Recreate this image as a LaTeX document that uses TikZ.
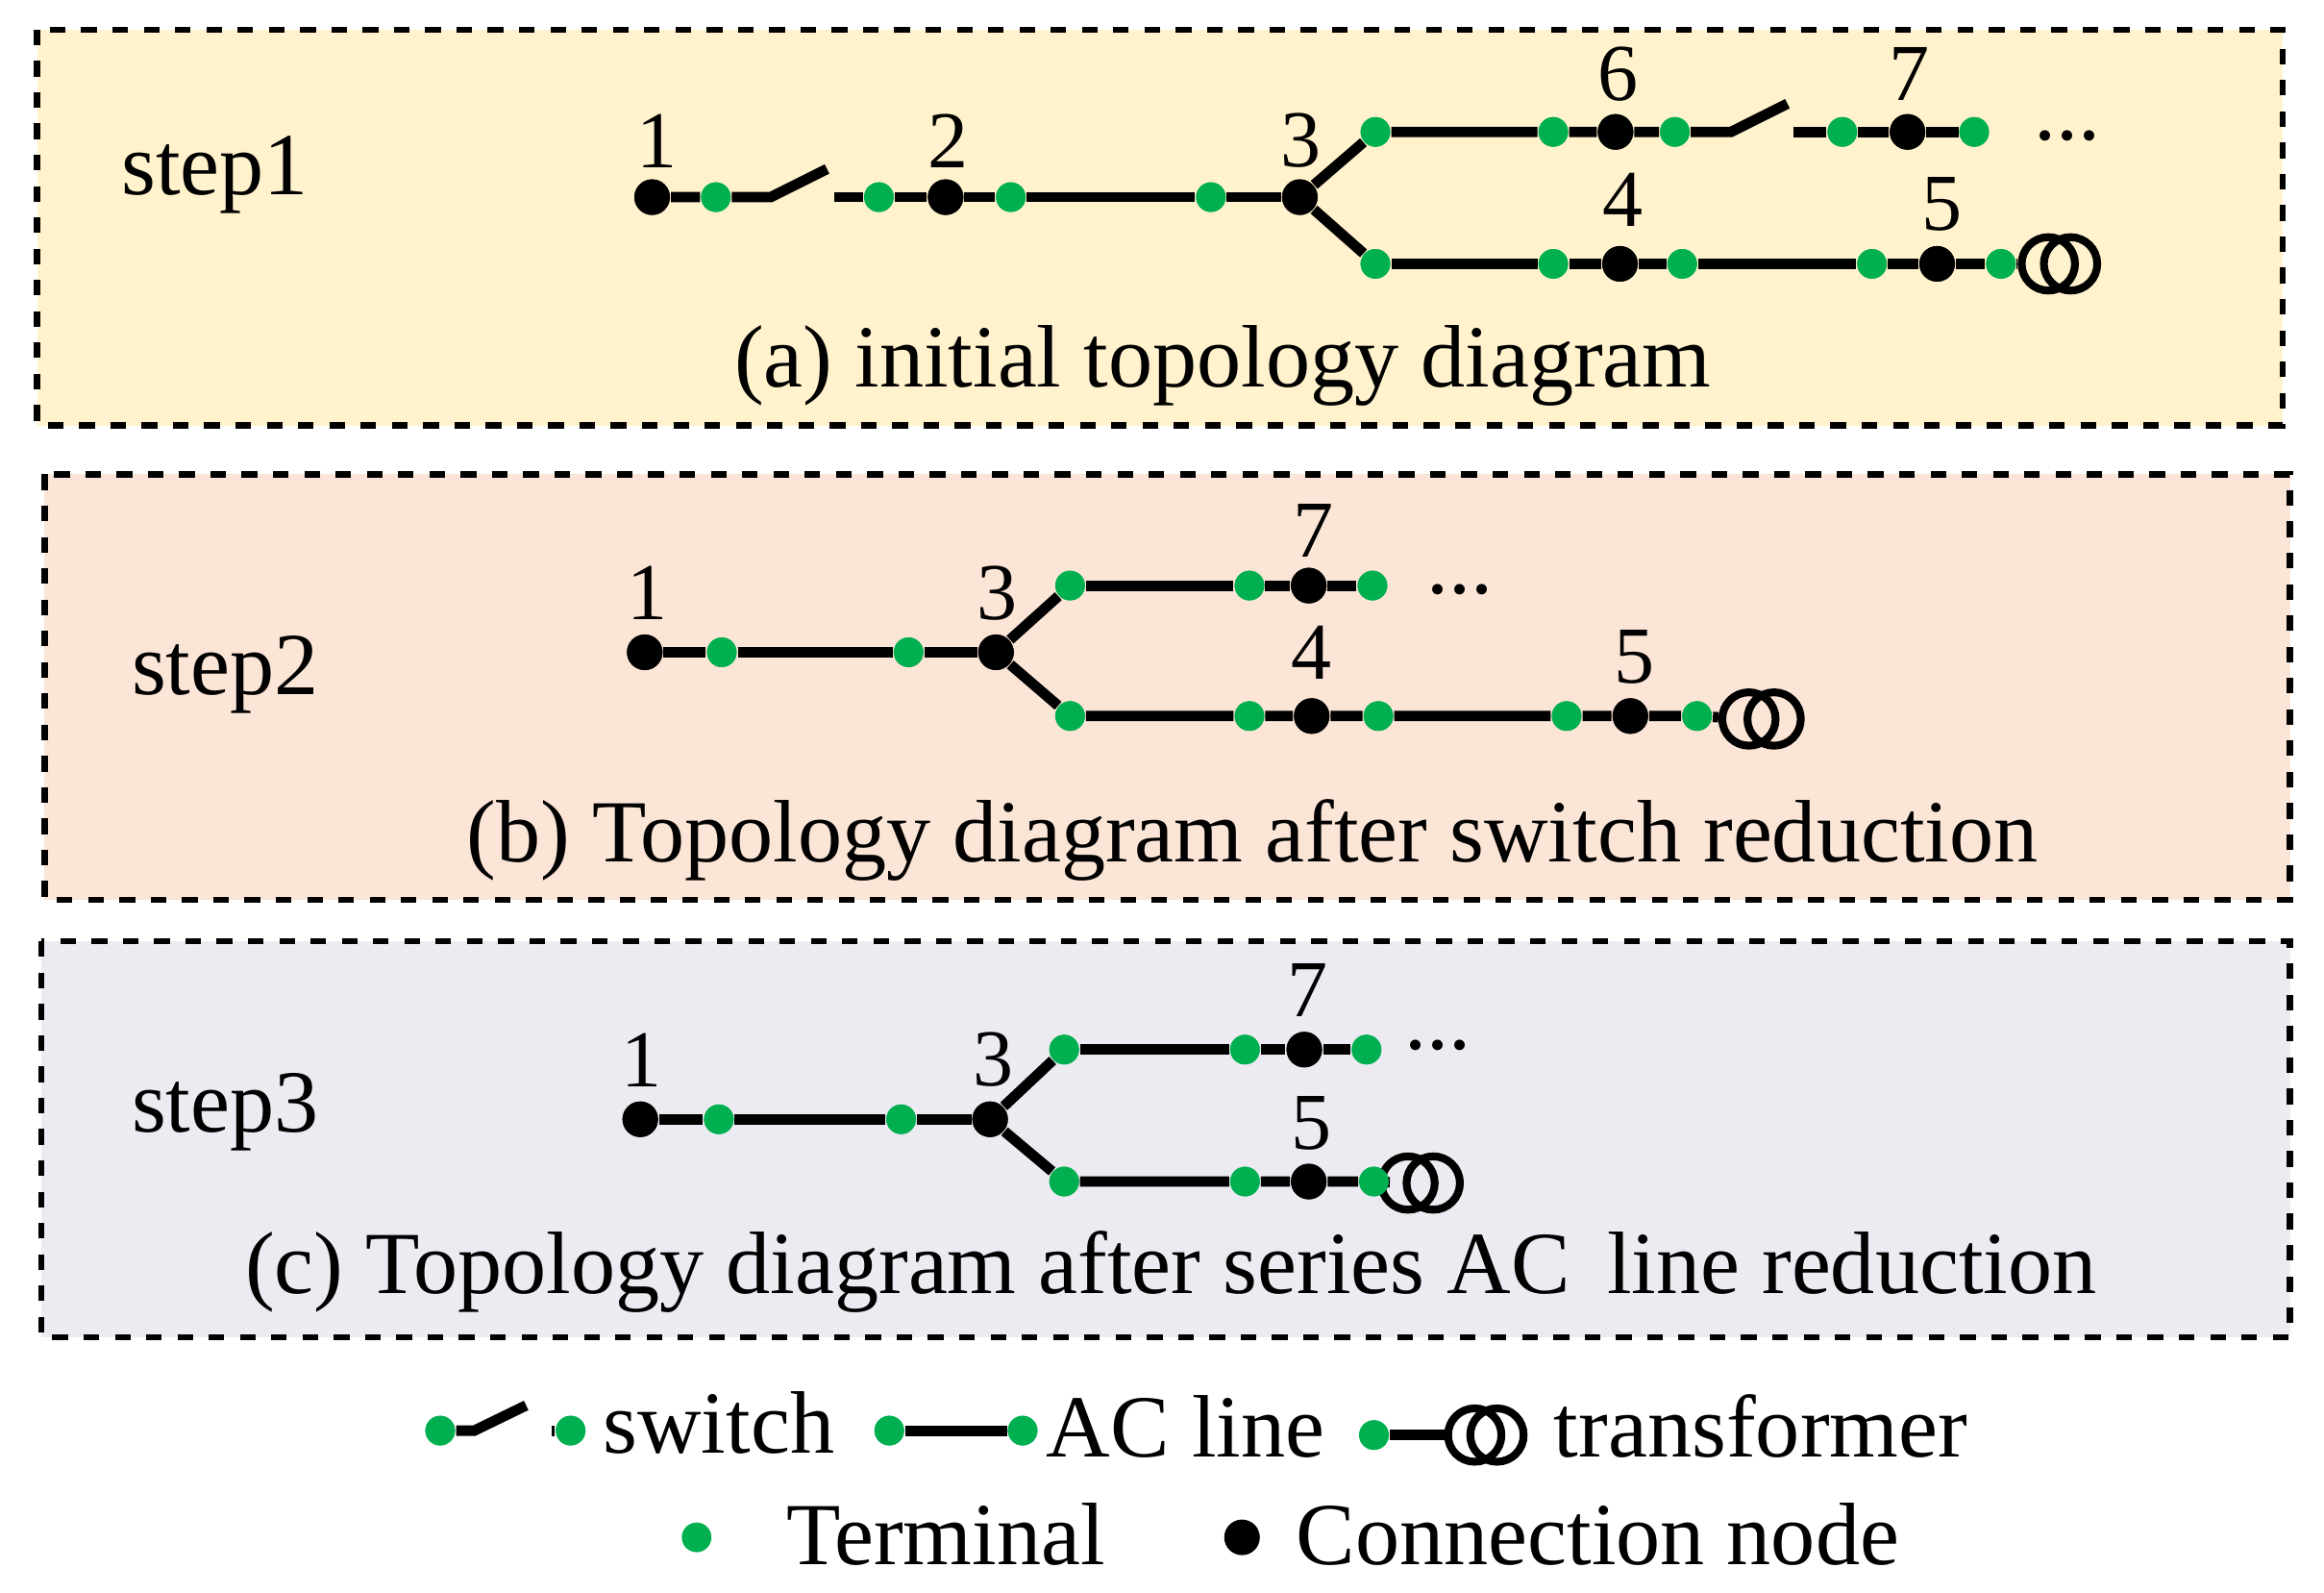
\documentclass[tikz,border=0pt]{standalone}
\usepackage{fontspec}
\setmainfont{Liberation Serif}
\definecolor{termgreen}{HTML}{00B050}
\definecolor{panelA}{HTML}{FFF2CC}
\definecolor{panelB}{HTML}{FBE5D6}
\definecolor{panelC}{HTML}{EDEBF2}
\tikzset{
  term/.style={circle,fill=termgreen,inner sep=0pt,minimum size=0.2cm},
  cnode/.style={circle,fill=black,inner sep=0pt,minimum size=0.24cm},
  line/.style={line width=2pt},
  panel/.style={dashed,line width=1.2pt},
  lbl/.style={font=\fontsize{15.5}{18}\selectfont},
  txt/.style={font=\fontsize{17}{20}\selectfont},
  tr/.style={circle,draw,line width=1.5pt,minimum size=0.36cm,inner sep=0pt}
}
\begin{document}
\begin{tikzpicture}[x=0.01cm,y=-0.01cm]
\useasboundingbox (0,0) rectangle (1568,1074);
% panels
\draw [panel,fill=panelA] (25,20) rectangle (1540,287);
\draw [panel,fill=panelB] (30,320) rectangle (1545,607);
\draw [panel,fill=panelC] (28,635) rectangle (1545,902);
\node[txt] (s1) at (145,118) {step1};
\node[txt] (s2) at (152,455) {step2};
\node[txt] (s3) at (152,750) {step3};
\node[txt] (ta) at (825,247) {(a) initial topology diagram};
\node[txt] (tb) at (845,567) {(b) Topology diagram after switch reduction};
\node[txt] (tc) at (790,858) {(c) Topology diagram after series AC\, line reduction};
% step1
\node[cnode] (a1) at (440,133) {};
\node[term] (a1r) at (483,133) {};
\coordinate (asw1) at (520,133);
\coordinate (asw1e) at (558,114);
\coordinate (asw1b) at (563,133);
\node[term] (a2l) at (593,133) {};
\node[cnode] (a2) at (638,133) {};
\node[term] (a2r) at (682,133) {};
\node[term] (a3l) at (817,133) {};
\node[cnode] (a3) at (877,133) {};
\node[term] (au1) at (928,89) {};
\node[term] (au2) at (1048,89) {};
\node[cnode] (a6) at (1090,89) {};
\node[term] (a6r) at (1130,89) {};
\coordinate (asw2) at (1168,89);
\coordinate (asw2e) at (1206,70);
\coordinate (asw2b) at (1210,89);
\node[term] (a7l) at (1243,89) {};
\node[cnode] (a7) at (1287,89) {};
\node[term] (a7r) at (1332,89) {};
\node[txt] (adots) at (1395,92) {...};
\node[term] (ad1) at (928,178) {};
\node[term] (ad2) at (1048,178) {};
\node[cnode] (a4) at (1093,178) {};
\node[term] (a4r) at (1135,178) {};
\node[term] (a5l) at (1263,178) {};
\node[cnode] (a5) at (1307,178) {};
\node[term] (a5r) at (1350,178) {};
\node[tr] (at1) at (1382,178) {};
\node[tr] (at2) at (1397,178) {};
\draw[line] (a1) -- (a1r) -- (asw1) -- (asw1e);
\draw[line] (asw1b) -- (a2l) -- (a2) -- (a2r) -- (a3l) -- (a3);
\draw[line] (au1) -- (a3) -- (ad1);
\draw[line] (au1) -- (au2) -- (a6) -- (a6r) -- (asw2) -- (asw2e);
\draw[line] (asw2b) -- (a7l) -- (a7) -- (a7r);
\draw[line] (ad1) -- (ad2) -- (a4) -- (a4r) -- (a5l) -- (a5) -- (a5r) -- (at1);
\foreach \n in {a1r,a2l,a2r,a3l,au1,au2,a6r,a7l,a7r,ad1,ad2,a4r,a5l,a5r} \node[term] at (\n) {};
\foreach \n in {a1,a2,a3,a6,a7,a4,a5} \node[cnode] at (\n) {};
\node[lbl] at (443,95) {1};
\node[lbl] at (640,95) {2};
\node[lbl] at (878,95) {3};
\node[lbl] at (1092,50) {6};
\node[lbl] at (1288,50) {7};
\node[lbl] at (1095,135) {4};
\node[lbl] at (1310,138) {5};
% step2
\node[cnode] (b1) at (435,440) {};
\node[term] (b1r) at (487,440) {};
\node[term] (b3l) at (613,440) {};
\node[cnode] (b3) at (672,440) {};
\node[term] (bu1) at (722,395) {};
\node[term] (bu2) at (843,395) {};
\node[cnode] (b7) at (883,395) {};
\node[term] (b7r) at (926,395) {};
\node[txt] (bdots) at (985,398) {...};
\node[term] (bd1) at (722,483) {};
\node[term] (bd2) at (843,483) {};
\node[cnode] (b4) at (885,483) {};
\node[term] (b4r) at (930,483) {};
\node[term] (b5l) at (1057,483) {};
\node[cnode] (b5) at (1100,483) {};
\node[term] (b5r) at (1145,483) {};
\node[tr] (bt1) at (1180,485) {};
\node[tr] (bt2) at (1197,485) {};
\draw[line] (b1) -- (b1r) -- (b3l) -- (b3);
\draw[line] (bu1) -- (b3) -- (bd1);
\draw[line] (bu1) -- (bu2) -- (b7) -- (b7r);
\draw[line] (bd1) -- (bd2) -- (b4) -- (b4r) -- (b5l) -- (b5) -- (b5r) -- (bt1);
\foreach \n in {b1r,b3l,bu1,bu2,b7r,bd1,bd2,b4r,b5l,b5r} \node[term] at (\n) {};
\foreach \n in {b1,b3,b7,b4,b5} \node[cnode] at (\n) {};
\node[lbl] at (437,400) {1};
\node[lbl] at (673,400) {3};
\node[lbl] at (886,358) {7};
\node[lbl] at (885,440) {4};
\node[lbl] at (1103,443) {5};
% step3
\node[cnode] (c1) at (432,755) {};
\node[term] (c1r) at (485,755) {};
\node[term] (c3l) at (608,755) {};
\node[cnode] (c3) at (668,755) {};
\node[term] (cu1) at (718,708) {};
\node[term] (cu2) at (840,708) {};
\node[cnode] (c7) at (880,708) {};
\node[term] (c7r) at (922,708) {};
\node[txt] (cdots) at (970,705) {...};
\node[term] (cd1) at (718,797) {};
\node[term] (cd2) at (840,797) {};
\node[cnode] (c5) at (883,797) {};
\node[term] (c5r) at (927,797) {};
\node[tr] (ct1) at (950,798) {};
\node[tr] (ct2) at (967,798) {};
\draw[line] (c1) -- (c1r) -- (c3l) -- (c3);
\draw[line] (cu1) -- (c3) -- (cd1);
\draw[line] (cu1) -- (cu2) -- (c7) -- (c7r);
\draw[line] (cd1) -- (cd2) -- (c5) -- (c5r) -- (ct1);
\foreach \n in {c1r,c3l,cu1,cu2,c7r,cd1,cd2,c5r} \node[term] at (\n) {};
\foreach \n in {c1,c3,c7,c5} \node[cnode] at (\n) {};
\node[lbl] at (433,715) {1};
\node[lbl] at (670,715) {3};
\node[lbl] at (882,668) {7};
\node[lbl] at (885,758) {5};
% legend
\node[term] (ls1) at (297,965) {};
\coordinate (lsw) at (320,965);
\coordinate (lswe) at (355,948);
\coordinate (lswb) at (372,965);
\node[term] (ls2) at (385,965) {};
\node[txt] (lswt) at (485,960) {switch};
\node[term] (ll1) at (600,965) {};
\node[term] (ll2) at (690,965) {};
\node[txt] (llt) at (800,962) {AC line};
\node[term] (lt1) at (927,968) {};
\node[tr] (ltc1) at (995,968) {};
\node[tr] (ltc2) at (1010,968) {};
\node[txt] (ltt) at (1188,962) {transformer};
\draw[line] (ls1) -- (lsw) -- (lswe);
\draw[line] (lswb) -- (ls2);
\draw[line] (ll1) -- (ll2);
\draw[line] (lt1) -- (ltc1);
\node[term] at (ls1) {};
\node[term] at (ls2) {};
\node[term] at (ll1) {};
\node[term] at (ll2) {};
\node[term] at (lt1) {};
\node[term] (lterm) at (470,1037) {};
\node[txt] (ltermt) at (638,1035) {Terminal};
\node[cnode] (lcn) at (838,1037) {};
\node[txt] (lcnt) at (1078,1035) {Connection node};
\end{tikzpicture}
\end{document}
